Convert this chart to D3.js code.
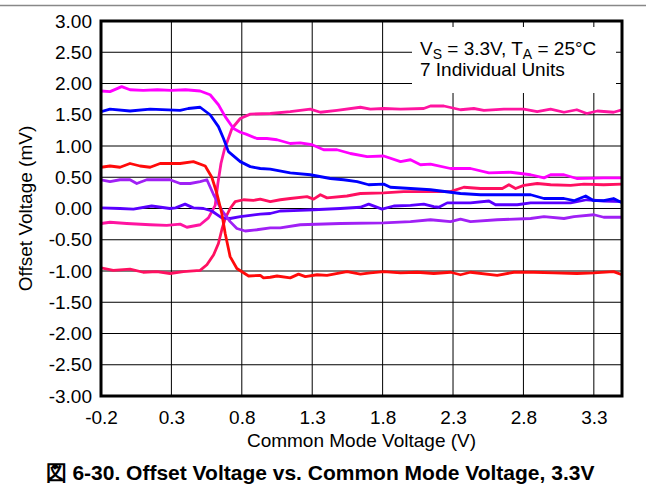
<!DOCTYPE html>
<meta charset="utf-8">
<body style="margin:0;background:#fff">
<style>
text { font-family: "Liberation Sans", Arial, Helvetica, sans-serif; fill: #000; }
.tick text { font-size: 19px; }
.grid line { stroke: #000; stroke-width: 1; }
.unit { fill: none; stroke-width: 2.8; stroke-linejoin: round; stroke-linecap: round; }
</style>
<script src="https://d3js.org/d3.v7.min.js"></script>
<script>

var width = 646, height = 489;
var plotLeft = 101, plotRight = 622, plotTop = 21, plotBottom = 396;

// axis ticks
var xTicks = [-0.2, 0.3, 0.8, 1.3, 1.8, 2.3, 2.8, 3.3];
var yTicks = [3, 2.5, 2, 1.5, 1, 0.5, 0, -0.5, -1, -1.5, -2, -2.5, -3];

// 7 individual units (V, mV)
var unitColors = ["#ff1060", "#ff14a0", "#5a00ff", "#a020f5", "#ff0a0a", "#0000ff", "#ff00ff"];

var u1V  = [-0.2, -0.113, 0.006, 0.10, 0.196, 0.29, 0.385, 0.504, 0.552, 0.60, 0.634, 0.658, 0.682, 0.717, 0.753, 0.812, 0.883, 0.931, 1.002, 1.073, 1.144, 1.263, 1.31, 1.358, 1.405, 1.547, 1.642, 1.808, 1.95, 2.117, 2.282, 2.377, 2.495, 2.65, 2.697, 2.744, 2.803, 2.898, 2.993, 3.135, 3.23, 3.37, 3.5];
var u1Mv = [-0.95, -0.99, -0.97, -1.02, -1.01, -1.04, -1.01, -0.99, -0.90, -0.74, -0.56, -0.34, -0.16, 0.0, 0.11, 0.14, 0.13, 0.15, 0.11, 0.14, 0.16, 0.19, 0.15, 0.22, 0.17, 0.20, 0.24, 0.25, 0.27, 0.27, 0.27, 0.34, 0.32, 0.32, 0.38, 0.32, 0.37, 0.40, 0.38, 0.37, 0.39, 0.38, 0.39];

var u2V  = [-0.2, -0.136, -0.017, 0.149, 0.267, 0.362, 0.41, 0.504, 0.563, 0.611, 0.63, 0.652, 0.676, 0.73, 0.789, 0.86, 1.002, 1.144, 1.286, 1.358, 1.476, 1.642, 1.713, 1.808, 1.927, 2.092, 2.14, 2.235, 2.353, 2.448, 2.519, 2.661, 2.803, 2.898, 2.993, 3.088, 3.179, 3.25, 3.325, 3.44, 3.5];
var u2Mv = [-0.24, -0.22, -0.24, -0.26, -0.27, -0.25, -0.30, -0.26, -0.15, 0.05, 0.40, 0.72, 0.94, 1.28, 1.44, 1.51, 1.52, 1.55, 1.59, 1.54, 1.57, 1.62, 1.59, 1.60, 1.59, 1.60, 1.64, 1.64, 1.58, 1.60, 1.57, 1.59, 1.59, 1.55, 1.59, 1.54, 1.58, 1.52, 1.56, 1.54, 1.58];

var u3V  = [-0.2, -0.065, 0.03, 0.16, 0.29, 0.33, 0.397, 0.456, 0.528, 0.587, 0.658, 0.717, 0.789, 0.86, 0.931, 1.002, 1.073, 1.215, 1.31, 1.50, 1.642, 1.701, 1.796, 1.879, 1.998, 2.092, 2.163, 2.199, 2.259, 2.424, 2.555, 2.602, 2.756, 2.851, 2.993, 3.135, 3.25, 3.37, 3.5];
var u3Mv = [0.01, 0.0, -0.01, 0.04, 0.0, 0.01, 0.07, 0.01, 0.0, -0.04, -0.15, -0.16, -0.13, -0.11, -0.09, -0.08, -0.04, -0.03, -0.02, 0.0, 0.02, 0.07, -0.01, 0.04, 0.05, 0.07, 0.03, 0.02, 0.09, 0.09, 0.12, 0.06, 0.06, 0.09, 0.09, 0.09, 0.14, 0.12, 0.11];

var u4V  = [-0.2, -0.136, -0.065, 0.006, 0.054, 0.125, 0.22, 0.29, 0.362, 0.433, 0.504, 0.552, 0.60, 0.658, 0.717, 0.765, 0.824, 0.907, 1.002, 1.073, 1.215, 1.50, 1.808, 1.998, 2.14, 2.282, 2.353, 2.424, 2.614, 2.851, 2.946, 3.088, 3.159, 3.30, 3.37, 3.5];
var u4Mv = [0.46, 0.43, 0.46, 0.46, 0.40, 0.46, 0.46, 0.46, 0.40, 0.40, 0.43, 0.46, 0.22, -0.03, -0.21, -0.32, -0.36, -0.34, -0.31, -0.31, -0.26, -0.24, -0.23, -0.21, -0.18, -0.21, -0.17, -0.21, -0.18, -0.16, -0.13, -0.16, -0.13, -0.10, -0.14, -0.14];

var u5V  = [-0.2, -0.136, -0.065, 0.006, 0.077, 0.149, 0.22, 0.362, 0.456, 0.54, 0.587, 0.623, 0.658, 0.682, 0.717, 0.765, 0.848, 0.931, 0.954, 1.002, 1.05, 1.144, 1.203, 1.251, 1.334, 1.405, 1.547, 1.642, 1.713, 1.808, 1.927, 2.045, 2.163, 2.282, 2.353, 2.424, 2.614, 2.732, 2.874, 3.017, 3.179, 3.30, 3.44, 3.5];
var u5Mv = [0.66, 0.68, 0.66, 0.72, 0.68, 0.66, 0.72, 0.72, 0.75, 0.68, 0.50, 0.24, -0.08, -0.40, -0.77, -0.96, -1.08, -1.07, -1.11, -1.10, -1.08, -1.11, -1.05, -1.09, -1.06, -1.07, -1.01, -1.05, -1.03, -1.01, -1.03, -1.02, -1.04, -1.02, -1.06, -1.02, -1.07, -1.02, -1.02, -1.03, -1.04, -1.03, -1.01, -1.06];

var u6V  = [-0.2, -0.136, 0.006, 0.149, 0.362, 0.42, 0.504, 0.575, 0.634, 0.67, 0.705, 0.789, 0.86, 0.931, 1.002, 1.144, 1.286, 1.429, 1.523, 1.619, 1.701, 1.808, 1.855, 1.998, 2.14, 2.353, 2.495, 2.661, 2.851, 2.946, 3.088, 3.159, 3.242, 3.30, 3.37, 3.44, 3.5];
var u6Mv = [1.55, 1.59, 1.56, 1.59, 1.57, 1.60, 1.62, 1.50, 1.31, 1.12, 0.91, 0.75, 0.67, 0.64, 0.63, 0.57, 0.54, 0.48, 0.46, 0.43, 0.38, 0.39, 0.34, 0.32, 0.30, 0.24, 0.22, 0.22, 0.22, 0.16, 0.16, 0.125, 0.20, 0.125, 0.125, 0.16, 0.09];

var u7V  = [-0.2, -0.136, -0.053, 0.006, 0.10, 0.2, 0.3, 0.4, 0.504, 0.575, 0.634, 0.682, 0.741, 0.79, 0.83, 0.907, 0.978, 1.05, 1.144, 1.215, 1.299, 1.381, 1.476, 1.571, 1.69, 1.808, 1.927, 1.998, 2.069, 2.14, 2.282, 2.424, 2.555, 2.709, 2.851, 2.946, 2.993, 3.088, 3.179, 3.37, 3.5];
var u7Mv = [1.88, 1.87, 1.95, 1.90, 1.89, 1.90, 1.89, 1.90, 1.88, 1.82, 1.66, 1.47, 1.28, 1.22, 1.19, 1.12, 1.12, 1.10, 1.04, 1.05, 1.02, 0.94, 0.94, 0.88, 0.83, 0.84, 0.75, 0.78, 0.70, 0.71, 0.64, 0.64, 0.57, 0.58, 0.54, 0.49, 0.54, 0.54, 0.48, 0.49, 0.49];

var units = [[u1V, u1Mv], [u2V, u2Mv], [u3V, u3Mv], [u4V, u4Mv], [u5V, u5Mv], [u6V, u6Mv], [u7V, u7Mv]];

var svg = d3.select("body").append("svg")
    .attr("width", width)
    .attr("height", height);

// page rule above the figure
svg.append("line")
    .attr("x1", 0).attr("x2", width)
    .attr("y1", 5.5).attr("y2", 5.5)
    .attr("stroke", "#888").attr("stroke-width", 1.5);

var x = d3.scaleLinear().domain([-0.2, 3.5]).range([plotLeft, plotRight]);
var y = d3.scaleLinear().domain([-3, 3]).range([plotBottom, plotTop]);

var grid = svg.append("g").attr("class", "grid");
grid.selectAll(".vx")
  .data(xTicks.slice(1))
  .enter().append("line")
    .attr("x1", function(d) { return x(d); })
    .attr("x2", function(d) { return x(d); })
    .attr("y1", plotTop).attr("y2", plotBottom);
grid.selectAll(".hy")
  .data(yTicks.filter(function(d) { return Math.abs(d) < 3; }))
  .enter().append("line")
    .attr("x1", plotLeft).attr("x2", plotRight)
    .attr("y1", function(d) { return y(d); })
    .attr("y2", function(d) { return y(d); });

// legend box blanks the grid behind it
svg.append("rect")
    .attr("x", 412).attr("y", 27)
    .attr("width", 204).attr("height", 66)
    .attr("fill", "#fff");

var leg = svg.append("text").attr("font-size", 19);
var l1 = leg.append("tspan").attr("x", 420).attr("y", 55);
l1.append("tspan").text("V");
l1.append("tspan").attr("font-size", 14).attr("dy", 4).text("S");
l1.append("tspan").attr("dy", -4).text(" = 3.3V, T");
l1.append("tspan").attr("font-size", 14).attr("dy", 4).text("A");
l1.append("tspan").attr("dy", -4).text(" = 25°C");
leg.append("tspan").attr("x", 420).attr("y", 76).text("7 Individual Units");

svg.append("clipPath").attr("id", "plot")
  .append("rect")
    .attr("x", plotLeft).attr("y", plotTop)
    .attr("width", plotRight - plotLeft).attr("height", plotBottom - plotTop);

var line = d3.line()
    .x(function(d) { return x(d[0]); })
    .y(function(d) { return y(d[1]); });

svg.append("g").attr("clip-path", "url(#plot)")
  .selectAll("path")
  .data(units)
  .enter().append("path")
    .attr("class", "unit")
    .attr("stroke", function(d, i) { return unitColors[i]; })
    .attr("d", function(d) { return line(d3.zip(d[0], d[1])); });

// frame
svg.append("rect")
    .attr("x", plotLeft).attr("y", plotTop)
    .attr("width", plotRight - plotLeft).attr("height", plotBottom - plotTop)
    .attr("fill", "none").attr("stroke", "#000").attr("stroke-width", 3);

var yAxis = svg.append("g")
    .attr("transform", "translate(" + plotLeft + ",0)")
    .call(d3.axisLeft(y).tickValues(yTicks).tickSize(0).tickPadding(9)
      .tickFormat(function(d) { return d.toFixed(2); }));
var xAxis = svg.append("g")
    .attr("transform", "translate(0," + plotBottom + ")")
    .call(d3.axisBottom(x).tickValues(xTicks).tickSize(0).tickPadding(15)
      .tickFormat(function(d) { return d.toFixed(1); }));
svg.selectAll(".domain").remove();
yAxis.attr("font-family", null).attr("font-size", null);
xAxis.attr("font-family", null).attr("font-size", null);

svg.append("text")
    .attr("transform", "translate(32," + (plotTop + plotBottom) / 2 + ") rotate(-90)")
    .attr("text-anchor", "middle")
    .attr("font-size", 19)
    .text("Offset Voltage (mV)");

svg.append("text")
    .attr("x", (plotLeft + plotRight) / 2).attr("y", 447)
    .attr("text-anchor", "middle")
    .attr("font-size", 19)
    .text("Common Mode Voltage (V)");

svg.append("text")
    .attr("x", 320).attr("y", 480)
    .attr("text-anchor", "middle")
    .attr("font-size", 21)
    .attr("font-weight", "bold")
    .text("図 6-30. Offset Voltage vs. Common Mode Voltage, 3.3V");

</script>
</body>
